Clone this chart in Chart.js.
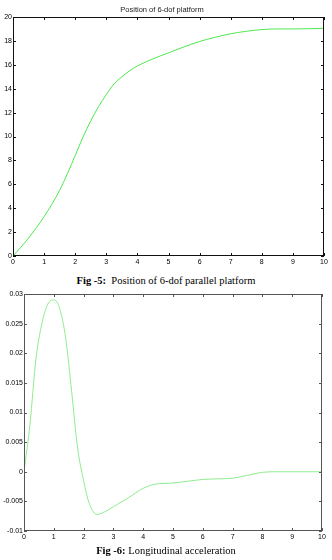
<!DOCTYPE html>
<html>
<head>
<meta charset="utf-8">
<script src="https://cdn.jsdelivr.net/npm/chart.js@4/dist/chart.umd.min.js"></script>
<style>
    html, body { margin: 0; padding: 0; background: #fff; }
    body { width: 332px; height: 560px; position: relative; overflow: hidden; }
    .box { position: absolute; left: 0; width: 332px; }
    .caption {
        position: absolute; left: 0; width: 332px; text-align: center;
        font-family: "Liberation Serif", "DejaVu Serif", serif; font-size: 10.5px; color: #000;
    }
</style>
</head>
<body>
<div class="box" style="top:0;height:270px"><canvas id="positionChart"></canvas></div>
<div class="caption" style="top:275px"><b>Fig -5:</b>&nbsp; Position of 6-dof parallel platform</div>
<div class="box" style="top:284px;height:262px"><canvas id="accelChart"></canvas></div>
<div class="caption" style="top:545px"><b>Fig -6:</b> Longitudinal acceleration</div>

<script>
// Datos
const posTime = [0, 0.5, 1, 1.5, 2, 2.25, 2.5, 2.75, 3, 3.25, 3.5, 3.75, 4, 4.5, 5, 5.5, 6, 6.5, 7, 7.5, 8, 8.5, 9, 10];
const posValues = [0, 1.5, 3.3, 5.5, 8.4, 9.95, 11.3, 12.5, 13.5, 14.4, 15.0, 15.5, 15.9, 16.5, 17.0, 17.5, 17.95, 18.3, 18.6, 18.8, 18.95, 19.0, 19.0, 19.05];

const accTime = [0, 0.2, 0.4, 0.6, 0.8, 1.0, 1.2, 1.4, 1.6, 1.8, 2.0, 2.2, 2.45, 2.7, 3.0, 3.5, 4.0, 4.4, 5.0, 5.5, 6.0, 6.5, 7.0, 7.5, 8.0, 8.5, 9.0, 10];
const accValues = [0, 0.008, 0.019, 0.025, 0.0283, 0.029, 0.0275, 0.0225, 0.0135, 0.004, -0.0015, -0.0055, -0.0072, -0.0068, -0.0059, -0.0044, -0.0028, -0.0021, -0.0019, -0.0016, -0.0013, -0.0012, -0.0011, -0.0006, -0.0001, 0, 0, 0];

const xTicks = [0, 1, 2, 3, 4, 5, 6, 7, 8, 9, 10];

const tickFont = { family: 'Liberation Sans, Arial, sans-serif', size: 7 };

/**
 * Marcas interiores en los cuatro lados y marco del área
 */
const frameTicks = {
    id: 'frameTicks',
    afterDraw(chart, args, opts) {
        const { ctx, chartArea: a, scales } = chart;
        const len = 3;
        ctx.save();
        ctx.strokeStyle = opts.color;
        ctx.lineWidth = 1;
        ctx.strokeRect(a.left + 0.5, a.top + 0.5, a.right - a.left - 1, a.bottom - a.top - 1);
        ctx.beginPath();
        scales.x.ticks.forEach(t => {
            const px = Math.round(scales.x.getPixelForValue(t.value)) + 0.5;
            ctx.moveTo(px, a.bottom); ctx.lineTo(px, a.bottom - len);
            ctx.moveTo(px, a.top); ctx.lineTo(px, a.top + len);
        });
        scales.y.ticks.forEach(t => {
            const py = Math.round(scales.y.getPixelForValue(t.value)) + 0.5;
            ctx.moveTo(a.left, py); ctx.lineTo(a.left + len, py);
            ctx.moveTo(a.right, py); ctx.lineTo(a.right - len, py);
        });
        ctx.stroke();
        ctx.restore();
    }
};

function points(xs, ys) {
    return xs.map((x, i) => ({ x: x, y: ys[i] }));
}

function makeChart(id, opt) {
    return new Chart(document.getElementById(id), {
        type: 'line',
        data: {
            datasets: [{
                data: points(opt.xs, opt.ys),
                borderColor: opt.lineColor,
                borderWidth: 1,
                pointRadius: 0,
                cubicInterpolationMode: 'monotone',
            }],
        },
        options: {
            responsive: true,
            maintainAspectRatio: false,
            animation: false,
            layout: { padding: opt.padding },
            plugins: {
                legend: { display: false },
                tooltip: { enabled: false },
                title: opt.title,
                frameTicks: { color: opt.frameColor },
            },
            scales: {
                x: {
                    type: 'linear',
                    min: 0, max: 10,
                    afterBuildTicks: s => { s.ticks = xTicks.map(v => ({ value: v })); },
                    grid: { display: false, drawTicks: false },
                    border: { display: false },
                    ticks: { font: tickFont, color: '#000', padding: 2, maxRotation: 0,
                             callback: v => String(v) },
                    afterFit: s => { s.height = opt.xHeight; },
                },
                y: {
                    min: opt.yMin, max: opt.yMax,
                    ticks: { stepSize: opt.yStep, font: tickFont, color: '#000', padding: 1,
                             callback: v => String(parseFloat(v.toFixed(3))) },
                    grid: { display: false, drawTicks: false },
                    border: { display: false },
                    afterFit: s => { s.width = opt.yWidth; },
                },
            },
        },
        plugins: [frameTicks],
    });
}

makeChart('positionChart', {
    xs: posTime, ys: posValues,
    lineColor: '#4ee84e',
    frameColor: '#111',
    yMin: 0, yMax: 20, yStep: 2,
    yWidth: 13, xHeight: 14,
    padding: { left: 0, right: 8, top: 0, bottom: 0 },
    title: {
        display: true,
        text: 'Position of 6-dof platform',
        font: { family: 'Liberation Sans, Arial, sans-serif', size: 7.5, weight: 'normal' },
        color: '#222',
        padding: { top: 5, bottom: 3 },
    },
});

makeChart('accelChart', {
    xs: accTime, ys: accValues,
    lineColor: '#8fec8f',
    frameColor: '#555',
    yMin: -0.01, yMax: 0.03, yStep: 0.005,
    yWidth: 24, xHeight: 15,
    padding: { left: 0, right: 10, top: 10, bottom: 0 },
    title: { display: false },
});
</script>
</body>
</html>
